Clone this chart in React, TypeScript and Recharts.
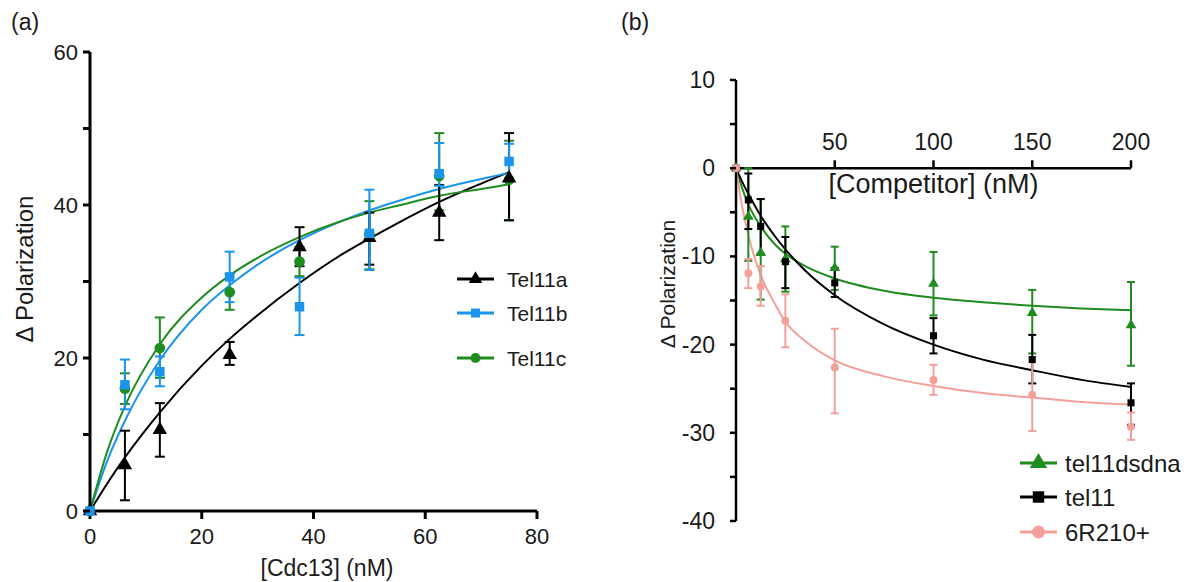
import {
  ComposedChart,
  Line,
  Scatter,
  ErrorBar,
  XAxis,
  YAxis,
  ZAxis,
  ReferenceLine,
  Legend,
  Symbols,
} from "recharts";

const FONT = '"Liberation Sans", Arial, Helvetica, sans-serif';
const TEXT = "#1a1a1a";
const BLACK = "#000000";
const BLUE = "#1b94ec";
const GREEN = "#1f8c1f";
const PINK = "#f3a09b";

// (a) Cdc13 titration
const cdc13 = [0, 6.25, 12.5, 25, 37.5, 50, 62.5, 75];
const tel11a = [0, 6.0, 10.6, 20.4, 34.5, 35.7, 39.0, 43.5];
const tel11aLow = [0, 1.4, 7.1, 19.1, 32.0, 32.2, 35.4, 38.0];
const tel11aHigh = [0, 10.5, 14.1, 22.1, 37.1, 39.0, 42.6, 49.4];
const tel11b = [0, 16.5, 18.2, 30.6, 26.7, 36.3, 44.1, 45.7];
const tel11bLow = [0, 13.3, 16.3, 27.3, 23.0, 31.5, 42.5, 43.4];
const tel11bHigh = [0, 19.8, 20.2, 33.9, 30.5, 42.0, 48.1, 48.0];
const tel11c = [0, 16.0, 21.3, 28.6, 32.6, 36.2, 43.8, 43.3];
const tel11cLow = [0, 14.0, 17.4, 26.3, 30.7, 31.6, 39.3, 38.0];
const tel11cHigh = [0, 18.0, 25.3, 31.0, 34.5, 40.5, 49.4, 48.4];

// fitted curves
const fitXA = [0, 3, 6.25, 12.5, 20, 25, 30, 37.5, 45, 50, 55, 62.5, 70, 75];
const fitTel11a = [0, 3.5, 7.0, 12.9, 19.0, 22.5, 25.6, 29.8, 33.5, 35.6, 37.6, 40.4, 42.8, 44.3];
const fitTel11b = [0, 6.4, 11.8, 19.7, 26.3, 29.5, 32.2, 35.4, 37.9, 39.3, 40.5, 42.1, 43.4, 44.2];
const fitTel11c = [0, 7.6, 13.7, 21.8, 27.9, 30.8, 33.1, 35.8, 37.9, 39.0, 39.9, 41.2, 42.1, 42.7];

const xTicksA = [0, 20, 40, 60, 80];
const yTicksA = [0, 10, 20, 30, 40, 50, 60];

// (b) competition
const competitor = [0, 6.25, 12.5, 25, 50, 100, 150, 200];
const dsdna = [0, -5.5, -9.6, -10.3, -11.3, -13.1, -16.4, -17.8];
const dsdnaLow = [0, -10.5, -14.9, -14.0, -13.8, -16.7, -21.0, -22.4];
const dsdnaHigh = [0, 0, -3.5, -6.6, -8.9, -9.5, -13.8, -12.9];
const tel11 = [0, -3.6, -6.6, -10.6, -13.0, -19.0, -21.7, -26.6];
const tel11Low = [0, -6.9, -9.7, -13.6, -14.6, -21.0, -24.4, -29.1];
const tel11High = [0, -0.6, -3.5, -7.8, -11.3, -17.0, -18.9, -24.4];
const r210 = [0, -11.9, -13.4, -17.3, -22.6, -24.0, -25.7, -29.3];
const r210Low = [0, -13.6, -15.6, -20.3, -27.8, -25.7, -29.8, -30.8];
const r210High = [0, -10.3, -11.1, -14.3, -18.2, -22.3, -21.4, -27.7];

const fitXB = [0, 3, 6.25, 12.5, 20, 25, 35, 50, 75, 100, 125, 150, 175, 200];
const fitDsdna = [0, -2.2, -4.1, -6.6, -8.7, -9.7, -11.1, -12.5, -13.9, -14.7, -15.2, -15.6, -15.9, -16.1];
const fitTel11 = [0, -1.5, -2.9, -5.4, -7.8, -9.2, -11.6, -14.4, -17.7, -20.0, -21.7, -22.9, -24.0, -24.8];
const fitR210 = [0, -4.2, -7.6, -12.1, -15.5, -17.4, -19.6, -21.8, -23.6, -24.7, -25.5, -26.0, -26.5, -26.8];

const xTicksB = [50, 100, 150, 200];
const yTicksB = [-40, -35, -30, -25, -20, -15, -10, -5, 0, 5, 10];

const points = (xs: number[], ys: number[], lo: number[], hi: number[]) =>
  xs.map((x, i) => ({ x, y: ys[i], err: [ys[i] - lo[i], hi[i] - ys[i]] }));
const curve = (xs: number[], ys: number[]) => xs.map((x, i) => ({ x, y: ys[i] }));

type Item = { name: string; color: string; shape: "triangle" | "square" | "circle" };

const legendA: Item[] = [
  { name: "Tel11a", color: BLACK, shape: "triangle" },
  { name: "Tel11b", color: BLUE, shape: "square" },
  { name: "Tel11c", color: GREEN, shape: "circle" },
];
const legendB: Item[] = [
  { name: "tel11dsdna", color: GREEN, shape: "triangle" },
  { name: "tel11", color: BLACK, shape: "square" },
  { name: "6R210+", color: PINK, shape: "circle" },
];

function makeYTick(majorStep: number, len: number, gap: number, fontSize: number, sw: number) {
  return function Tick(props: any) {
    const { x, y, payload } = props;
    const v = payload.value as number;
    const major = Math.abs(v % majorStep) < 1e-6;
    return (
      <g>
        <line x1={x - len} x2={x} y1={y} y2={y} stroke={BLACK} strokeWidth={sw} />
        {major && (
          <text
            x={x - gap}
            y={y}
            textAnchor="end"
            dominantBaseline="central"
            fontSize={fontSize}
            fontFamily={FONT}
            fill={TEXT}
          >
            {v}
          </text>
        )}
      </g>
    );
  };
}

function legendBox(items: Item[], rows: number[], w: number, h: number, x0: number, x1: number, tx: number, fontSize: number, size: number) {
  return () => (
    <svg width={w} height={h} style={{ display: "block", overflow: "visible" }}>
      {items.map((it, i) => (
        <g key={it.name}>
          <line x1={x0} x2={x1} y1={rows[i]} y2={rows[i]} stroke={it.color} strokeWidth={3} />
          <Symbols cx={(x0 + x1) / 2} cy={rows[i]} type={it.shape} size={size} fill={it.color} />
          <text x={tx} y={rows[i]} dominantBaseline="central" fontSize={fontSize} fontFamily={FONT} fill={TEXT}>
            {it.name}
          </text>
        </g>
      ))}
    </svg>
  );
}

function PanelA() {
  const series = [
    { name: "Tel11c", color: GREEN, shape: "circle", data: points(cdc13, tel11c, tel11cLow, tel11cHigh) },
    { name: "Tel11a", color: BLACK, shape: "triangle", data: points(cdc13, tel11a, tel11aLow, tel11aHigh) },
    { name: "Tel11b", color: BLUE, shape: "square", data: points(cdc13, tel11b, tel11bLow, tel11bHigh) },
  ];
  const fits = [
    { name: "fit Tel11a", color: BLACK, data: curve(fitXA, fitTel11a) },
    { name: "fit Tel11b", color: BLUE, data: curve(fitXA, fitTel11b) },
    { name: "fit Tel11c", color: GREEN, data: curve(fitXA, fitTel11c) },
  ];
  return (
    <ComposedChart width={600} height={582} margin={{ top: 52, right: 63, bottom: 0, left: 0 }}>
      <XAxis
        dataKey="x"
        type="number"
        domain={[0, 80]}
        ticks={xTicksA}
        interval={0}
        height={71}
        tickSize={8}
        tickMargin={9}
        axisLine={{ stroke: BLACK, strokeWidth: 3 }}
        tickLine={{ stroke: BLACK, strokeWidth: 3 }}
        tick={{ fill: TEXT, fontSize: 22, fontFamily: FONT }}
        label={() => (
          <text x={327} y={568} textAnchor="middle" dominantBaseline="central" fontSize={23} fontFamily={FONT} fill={TEXT}>
            [Cdc13] (nM)
          </text>
        )}
      />
      <YAxis
        dataKey="y"
        type="number"
        domain={[0, 60]}
        ticks={yTicksA}
        interval={0}
        width={90}
        tickSize={0}
        tickMargin={0}
        tickLine={false}
        axisLine={{ stroke: BLACK, strokeWidth: 3 }}
        tick={makeYTick(20, 7, 12, 22, 3)}
        label={() => (
          <text
            x={24}
            y={269}
            transform="rotate(-90 24 269)"
            textAnchor="middle"
            dominantBaseline="central"
            fontSize={24}
            fontFamily={FONT}
            fill={TEXT}
          >
            Δ Polarization
          </text>
        )}
      />
      <ZAxis range={[90, 90]} />
      {fits.map((f) => (
        <Line
          key={f.name}
          data={f.data}
          dataKey="y"
          type="monotone"
          stroke={f.color}
          strokeWidth={2}
          dot={false}
          activeDot={false}
          isAnimationActive={false}
          legendType="none"
        />
      ))}
      {series.map((s) => (
        <Scatter
          key={s.name}
          name={s.name}
          data={s.data}
          dataKey="y"
          fill={s.color}
          shape={s.shape as any}
          isAnimationActive={false}
        >
          <ErrorBar dataKey="err" direction="y" width={5} stroke={s.color} strokeWidth={2} />
        </Scatter>
      ))}
      <Legend
        layout="vertical"
        align="center"
        verticalAlign="middle"
        wrapperStyle={{ left: 440, top: 260, width: 150, height: 120 }}
        content={legendBox(legendA, [19, 53, 98], 150, 120, 17, 54, 67, 21, 80)}
      />
    </ComposedChart>
  );
}

function PanelB() {
  const series = [
    { name: "tel11dsdna", color: GREEN, shape: "triangle", data: points(competitor, dsdna, dsdnaLow, dsdnaHigh) },
    { name: "tel11", color: BLACK, shape: "square", data: points(competitor, tel11, tel11Low, tel11High) },
    { name: "6R210+", color: PINK, shape: "circle", data: points(competitor, r210, r210Low, r210High) },
  ];
  const fits = [
    { name: "fit tel11dsdna", color: GREEN, data: curve(fitXB, fitDsdna) },
    { name: "fit tel11", color: BLACK, data: curve(fitXB, fitTel11) },
    { name: "fit 6R210+", color: PINK, data: curve(fitXB, fitR210) },
  ];
  return (
    <ComposedChart width={590} height={582} margin={{ top: 80, right: 59, bottom: 61, left: 0 }}>
      <XAxis dataKey="x" type="number" domain={[0, 200]} hide />
      <YAxis
        dataKey="y"
        type="number"
        domain={[-40, 10]}
        ticks={yTicksB}
        interval={0}
        width={136}
        tickSize={0}
        tickMargin={0}
        tickLine={false}
        axisLine={{ stroke: BLACK, strokeWidth: 2.5 }}
        tick={makeYTick(10, 6, 21, 23, 2.5)}
        label={() => (
          <text
            x={67}
            y={284}
            transform="rotate(-90 67 284)"
            textAnchor="middle"
            dominantBaseline="central"
            fontSize={21}
            fontFamily={FONT}
            fill={TEXT}
          >
            Δ Polarization
          </text>
        )}
      />
      <ZAxis range={[50, 50]} />
      <ReferenceLine
        y={0}
        stroke={BLACK}
        strokeWidth={2.5}
        label={{ value: "[Competitor] (nM)", position: "bottom", offset: 6, fontSize: 27, fontFamily: FONT, fill: TEXT }}
      />
      {xTicksB.map((t) => (
        <ReferenceLine
          key={t}
          segment={[
            { x: t, y: 0 },
            { x: t, y: 0.9 },
          ]}
          stroke={BLACK}
          strokeWidth={2.5}
          label={{ value: String(t), position: "top", offset: 10, fontSize: 23, fontFamily: FONT, fill: TEXT }}
        />
      ))}
      {fits.map((f) => (
        <Line
          key={f.name}
          data={f.data}
          dataKey="y"
          type="monotone"
          stroke={f.color}
          strokeWidth={2}
          dot={false}
          activeDot={false}
          isAnimationActive={false}
          legendType="none"
        />
      ))}
      {series.map((s) => (
        <Scatter
          key={s.name}
          name={s.name}
          data={s.data}
          dataKey="y"
          fill={s.color}
          shape={s.shape as any}
          isAnimationActive={false}
        >
          <ErrorBar dataKey="err" direction="y" width={4} stroke={s.color} strokeWidth={2} />
        </Scatter>
      ))}
      <Legend
        layout="vertical"
        align="center"
        verticalAlign="middle"
        wrapperStyle={{ left: 410, top: 445, width: 180, height: 110 }}
        content={legendBox(legendB, [18, 52, 87], 180, 110, 10, 47, 55, 24, 130)}
      />
    </ComposedChart>
  );
}

export default function App() {
  return (
    <div style={{ position: "absolute", left: 0, top: 0, width: 1190, height: 582, background: "#fff", fontFamily: FONT }}>
      <div style={{ position: "absolute", left: 11, top: 11, fontSize: 23, lineHeight: 1, color: TEXT }}>(a)</div>
      <div style={{ position: "absolute", left: 621, top: 11, fontSize: 23, lineHeight: 1, color: TEXT }}>(b)</div>
      <div style={{ position: "absolute", left: 0, top: 0 }}>
        <PanelA />
      </div>
      <div style={{ position: "absolute", left: 600, top: 0 }}>
        <PanelB />
      </div>
    </div>
  );
}
